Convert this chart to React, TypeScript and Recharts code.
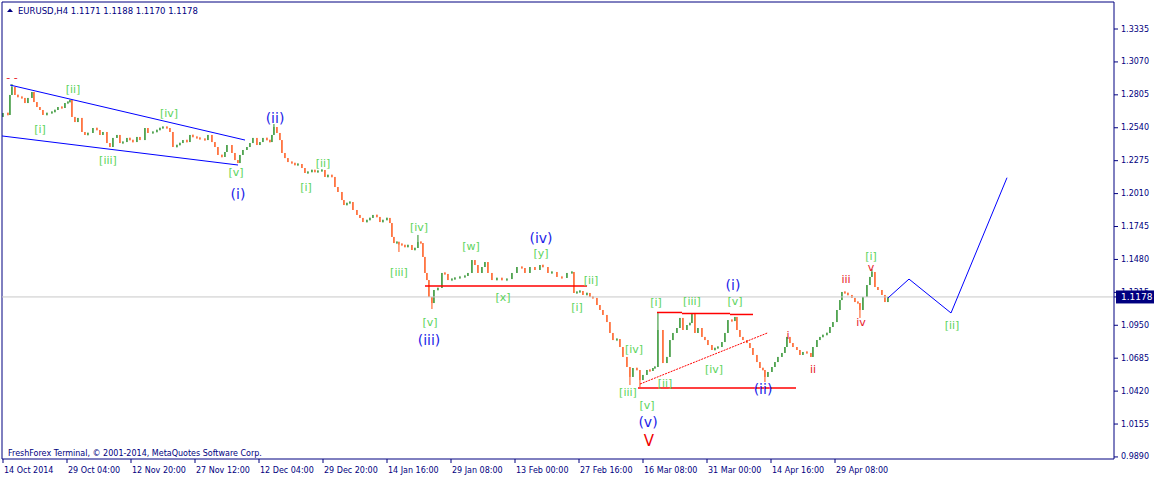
import React from 'react';
import { ComposedChart, Bar, XAxis, YAxis, ReferenceLine, Scatter } from 'recharts';

const NAVY = '#000080';
const GREEN = '#228B22';
const ORANGE = '#FF5010';
const FONT = '"DejaVu Sans", Tahoma, sans-serif';

// bar index (H4 bars since 14 Oct 2014) and closing prices
const bars = [0,5,7,9,12,15,19,22,25,29,31,34,37,40,44,49,52,55,59,62,65,67,69,72,75,79,82,85,90,94,97,100,104,107,110,114,117,120,124,127,130,134,137,142,145,150,154,157,160,164,167,170,174,177,180,184,187,190,194,197,202,205,209,212,215,219,222,224,
229,232,235,237,240,244,247,250,254,257,260,264,267,269,271,274,277,279,282,285,289,292,295,299,302,305,309,312,315,319,322,325,329,332,335,339,341,344,347,350,354,357,360,364,367,370,374,377,380,384,387,389,391,394,396,399,402,405,409,412,415,418,420,422,424,426,429,431,435,439,442,445,449,452,457,462,465,469,472,475,479,482,485,489,494,499,504,509,514,519,522,527,532,537,540,545,549,554,559,564,569,571,574,577,580,584,587,590,594,597,600,604,607,610,614,617,620,624,627,630,634,637,640,644,647,650,652,655,660,664,667,670,674,677,680,684,687,689,692,695,699,702,705,709,712,715,719,722,725,729,732,734,737,740,744,747,750,754,757,760,762,765,769,772,775,779,782,784,787,790,794,797,800,804,808,810,814,817,820,824,827,830,834,837,839,842,845,849,852,855,857,860,864,867,869,872,875,879,882,885];
const closes = [1.2659,1.2643,1.2804,1.2868,1.2804,1.2788,1.2780,1.2739,1.2780,1.2828,1.2747,1.2707,1.2683,1.2643,1.2659,1.2667,1.2683,1.2707,1.2699,1.2739,1.2747,1.2763,1.2627,1.2586,1.2619,1.2506,1.2482,1.2498,1.2538,1.2522,1.2482,1.2506,1.2417,1.2385,1.2458,1.2482,1.2417,1.2425,1.2458,1.2441,1.2425,1.2466,1.2441,1.2538,1.2498,1.2506,1.2522,1.2538,1.2546,1.2538,1.2506,1.2385,1.2401,1.2417,1.2441,1.2425,1.2482,1.2466,1.2458,1.2450,1.2441,1.2482,1.2425,1.2385,1.2321,1.2305,1.2345,1.2401,
1.2337,1.2280,1.2256,1.2321,1.2361,1.2385,1.2417,1.2458,1.2401,1.2425,1.2458,1.2441,1.2425,1.2482,1.2546,1.2498,1.2441,1.2337,1.2296,1.2264,1.2256,1.2240,1.2248,1.2216,1.2176,1.2184,1.2200,1.2184,1.2192,1.2200,1.2144,1.2160,1.2144,1.2063,1.2023,1.1958,1.1918,1.1934,1.1942,1.1878,1.1838,1.1814,1.1781,1.1797,1.1814,1.1838,1.1822,1.1781,1.1797,1.1814,1.1773,1.1661,1.1612,1.1620,1.1604,1.1596,1.1580,1.1596,1.1556,1.1572,1.1620,1.1612,1.1500,1.1371,1.1314,1.1178,1.1129,1.1234,1.1250,1.1371,1.1363,1.1314,1.1322,1.1331,1.1339,1.1347,1.1371,1.1475,1.1435,1.1371,1.1419,1.1459,1.1371,1.1314,1.1331,1.1314,1.1322,1.1371,1.1419,1.1411,1.1371,1.1419,1.1395,1.1435,1.1419,1.1371,1.1379,1.1339,1.1331,1.1371,1.1379,1.1210,1.1218,1.1226,1.1194,1.1210,1.1178,1.1170,1.1113,1.1073,1.1033,1.0976,1.0888,1.0831,1.0839,1.0775,1.0695,1.0614,1.0534,1.0606,1.0590,1.0509,1.0550,1.0590,1.0582,1.0606,1.0614,1.0912,1.0646,1.0695,1.0831,1.0888,1.0928,1.1009,1.0912,1.0952,1.0968,1.1049,1.0888,1.0928,1.0856,1.0831,1.0791,1.0751,1.0767,1.0775,1.0815,1.0888,1.0992,1.0984,1.1017,1.0912,1.0856,1.0831,1.0807,1.0767,1.0711,1.0654,1.0606,1.0590,1.0534,1.0574,1.0614,1.0654,1.0695,1.0727,1.0775,1.0856,1.0807,1.0775,1.0751,1.0711,1.0735,1.0727,1.0695,1.0775,1.0831,1.0856,1.0872,1.0888,1.0936,1.0976,1.1073,1.1153,1.1218,1.1210,1.1194,1.1170,1.1137,1.1129,1.1073,1.1178,1.1274,1.1339,1.1379,1.1258,1.1234,1.1194,1.1137,1.1178];
const FIRST_OPEN = 1.2627;
const spikeBars = [9, 271, 396, 415, 429, 627, 637, 655, 762, 857, 869];
const spikePrices = [1.2892, 1.2570, 1.1540, 1.1677, 1.1081, 1.0469, 1.0453, 1.1049, 1.0493, 1.1009, 1.1403];

const LAST_PRICE = 1.1178;
const priceTicks = [0.9890, 1.0155, 1.0420, 1.0685, 1.0950, 1.1215, 1.1480, 1.1745, 1.2010, 1.2275, 1.2540, 1.2805, 1.3070, 1.3335];
const timeTicks = [0, 64, 128, 192, 256, 320, 384, 448, 512, 576, 640, 704, 768, 832];
const timeLabels = ['14 Oct 2014', '29 Oct 04:00', '12 Nov 20:00', '27 Nov 12:00', '12 Dec 04:00', '29 Dec 20:00', '14 Jan 16:00', '29 Jan 08:00', '13 Feb 00:00', '27 Feb 16:00', '16 Mar 08:00', '31 Mar 00:00', '14 Apr 16:00', '29 Apr 08:00'];
const Y_MIN = 0.98735;
const Y_MAX = 1.35524;
const X_MIN = -1;
const X_MAX = 1111;

// wave labels: [bar, price, text]
const greenLabels: [number, number, string][] = [
  [37, 1.2522, '[i]'], [70, 1.2844, '[ii]'], [105, 1.2280, '[iii]'], [166, 1.2651, '[iv]'], [233, 1.2176, '[v]'],
  [303, 1.2063, '[i]'], [320, 1.2256, '[ii]'], [396, 1.1371, '[iii]'], [416, 1.1741, '[iv]'], [427, 1.0976, '[v]'],
  [468, 1.1588, '[w]'], [500, 1.1170, '[x]'], [538, 1.1524, '[y]'],
  [574, 1.1097, '[i]'], [588, 1.1314, '[ii]'], [625, 1.0405, '[iii]'], [631, 1.0759, '[iv]'], [644, 1.0308, '[v]'],
  [653, 1.1137, '[i]'], [662, 1.0485, '[ii]'], [689, 1.1145, '[iii]'], [711, 1.0598, '[iv]'], [732, 1.1145, '[v]'],
  [868, 1.1500, '[i]'], [949, 1.0952, '[ii]'],
];
const blueLabels: [number, number, string][] = [
  [235, 1.2007, '(i)'], [272, 1.2619, '(ii)'], [426, 1.0831, '(iii)'], [538, 1.1653, '(iv)'], [645, 1.0171, '(v)'],
  [730, 1.1274, '(i)'], [760, 1.0437, '(ii)'],
];
const redLabels: [number, number, string][] = [
  [785, 1.0864, 'i'], [810, 1.0590, 'ii'], [843, 1.1322, 'iii'], [858, 1.0976, 'iv'], [868, 1.1419, 'v'], [9, 1.2941, '- -'],
];
const bigRedLabels: [number, number, string][] = [[646, 1.0018, 'V']];

// line segments: [bar1, price1, bar2, price2]
const blueSegments: [number, number, number, number][] = [
  [7, 1.2884, 242, 1.2441],
  [-1, 1.2474, 235, 1.2240],
  [885, 1.1170, 906, 1.1322],
  [906, 1.1322, 948, 1.1049],
  [948, 1.1049, 1004, 1.2138],
];
const redSegments: [number, number, number, number][] = [
  [422, 1.1266, 584, 1.1266],
  [654, 1.1053, 679, 1.1053],
  [679, 1.1045, 727, 1.1045],
  [727, 1.1037, 750, 1.1037],
  [635, 1.0445, 793, 1.0445],
];
const redDotted: [number, number, number, number][] = [[637, 1.0477, 765, 1.0890]];

const candles = bars.map((b, i) => {
  const c = closes[i];
  const o = i === 0 ? FIRST_OPEN : closes[i - 1];
  let h = Math.max(o, c);
  let l = Math.min(o, c);
  const si = spikeBars.indexOf(b);
  if (si >= 0) {
    h = Math.max(h, spikePrices[si]);
    l = Math.min(l, spikePrices[si]);
  }
  return { bar: b, o, c, h, l, range: [l, h] };
});

const MIN_BODY = 3;

const Candle = (props: any) => {
  const { x, y, width, height, payload } = props;
  if (x == null || y == null || !payload) return null;
  const top0 = height >= 0 ? y : y + height;
  const hgt = Math.abs(height);
  const { o, c, h, l } = payload;
  const k = h > l ? hgt / (h - l) : 0;
  let bTop = top0 + (h - Math.max(o, c)) * k;
  let bBot = top0 + (h - Math.min(o, c)) * k;
  if (bBot - bTop < MIN_BODY) {
    const mid = (bTop + bBot) / 2;
    bTop = mid - MIN_BODY / 2;
    bBot = mid + MIN_BODY / 2;
  }
  const color = c >= o ? GREEN : ORANGE;
  const cx = x + width / 2;
  return (
    <g>
      <line x1={cx} x2={cx} y1={top0} y2={top0 + Math.max(hgt, 1)} stroke={color} strokeWidth={1} />
      <rect x={x} y={bTop} width={width} height={bBot - bTop} fill={color} />
    </g>
  );
};

const makeText = (color: string, size: number, weight: string = 'normal') => (props: any) => {
  const { cx, cy, payload } = props;
  if (cx == null || cy == null) return null;
  return (
    <text x={cx} y={cy} fill={color} fontSize={size} fontFamily={FONT} fontWeight={weight}
      textAnchor="middle" dominantBaseline="central">{payload.t}</text>
  );
};

const toPts = (arr: [number, number, string][]) => arr.map(([bar, price, t]) => ({ bar, price, t }));

const YTick = (props: any) => {
  const { x, y, payload } = props;
  const v = payload.value;
  if (Math.abs(v - LAST_PRICE) < 1e-9) {
    return (
      <g>
        <rect x={x - 4} y={y - 6.5} width={40} height={13} fill={NAVY} />
        <text x={x + 1} y={y} fill="#FFFFFF" fontSize={9} fontFamily={FONT} dominantBaseline="central">{v.toFixed(4)}</text>
      </g>
    );
  }
  return (
    <text x={x + 1} y={y} fill={NAVY} fontSize={8} fontFamily={FONT} dominantBaseline="central">{v.toFixed(4)}</text>
  );
};

const XTick = (props: any) => {
  const { x, y, payload } = props;
  const idx = timeTicks.indexOf(payload.value);
  return (
    <text x={x + 1} y={y + 8} fill={NAVY} fontSize={8} fontFamily={FONT} textAnchor="start">{timeLabels[idx]}</text>
  );
};

export default function App() {
  return (
    <div style={{ position: 'absolute', left: 0, top: 0, width: 1154, height: 479, background: '#FFFFFF' }}>
      <ComposedChart width={1154} height={479} data={candles} margin={{ top: 2, right: 0, left: 2, bottom: 0 }}>
        <XAxis dataKey="bar" type="number" domain={[X_MIN, X_MAX]} allowDataOverflow ticks={timeTicks} interval={0}
          height={20} axisLine={{ stroke: NAVY }} tickLine={{ stroke: NAVY }} tickSize={4} tick={<XTick />} />
        <YAxis orientation="right" type="number" domain={[Y_MIN, Y_MAX]} allowDataOverflow
          ticks={[...priceTicks, LAST_PRICE]} interval={0} width={40}
          axisLine={{ stroke: NAVY }} tickLine={{ stroke: NAVY }} tickSize={4} tick={<YTick />} />
        <ReferenceLine x={X_MIN} stroke={NAVY} />
        <ReferenceLine y={Y_MAX} stroke={NAVY} />
        <ReferenceLine y={LAST_PRICE} stroke="#C8C8C8" />
        {blueSegments.map((s, i) => (
          <ReferenceLine key={'b' + i} segment={[{ x: s[0], y: s[1] }, { x: s[2], y: s[3] }]} stroke="#0000FF" strokeWidth={1} ifOverflow="visible" />
        ))}
        {redSegments.map((s, i) => (
          <ReferenceLine key={'r' + i} segment={[{ x: s[0], y: s[1] }, { x: s[2], y: s[3] }]} stroke="#FF0000" strokeWidth={1.5} ifOverflow="visible" />
        ))}
        {redDotted.map((s, i) => (
          <ReferenceLine key={'d' + i} segment={[{ x: s[0], y: s[1] }, { x: s[2], y: s[3] }]} stroke="#FF0000" strokeWidth={1} strokeDasharray="2 1" ifOverflow="visible" />
        ))}
        <Bar dataKey="range" barSize={4} shape={<Candle />} isAnimationActive={false} />
        <Scatter data={toPts(greenLabels)} dataKey="price" shape={makeText('#5CD45C', 11)} isAnimationActive={false} />
        <Scatter data={toPts(blueLabels)} dataKey="price" shape={makeText('#1C1CE8', 14)} isAnimationActive={false} />
        <Scatter data={toPts(redLabels)} dataKey="price" shape={makeText('#E8182A', 11)} isAnimationActive={false} />
        <Scatter data={toPts(bigRedLabels)} dataKey="price" shape={makeText('#F00000', 15)} isAnimationActive={false} />
      </ComposedChart>
      <svg width={1154} height={479} style={{ position: 'absolute', left: 0, top: 0, pointerEvents: 'none' }}>
        <polygon points="7,12 10,8.5 13,12" fill={NAVY} />
        <text x={18} y={14} fill={NAVY} fontSize={8.5} fontFamily={FONT}>EURUSD,H4  1.1171 1.1188 1.1170 1.1178</text>
        <text x={8} y={456} fill={NAVY} fontSize={8} fontFamily={FONT}>FreshForex Terminal, © 2001-2014, MetaQuotes Software Corp.</text>
      </svg>
    </div>
  );
}
